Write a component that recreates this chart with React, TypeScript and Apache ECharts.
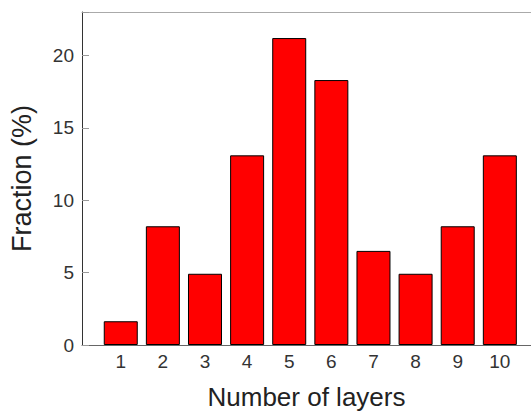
import React, { useEffect, useRef } from "react";
import * as echarts from "echarts";

const layers = [1, 2, 3, 4, 5, 6, 7, 8, 9, 10];
const fractions = [1.64, 8.2, 4.92, 13.1, 21.2, 18.3, 6.5, 4.92, 8.2, 13.1];
const yTicks = [0, 5, 10, 15, 20];

export default function App() {
  const ref = useRef<HTMLDivElement>(null);
  useEffect(() => {
    document.body.style.margin = "0";
    const chart = echarts.init(ref.current!, null, { renderer: "svg" });
    const font = "'Liberation Sans', Arial, sans-serif";
    chart.setOption({
      animation: false,
      backgroundColor: "#ffffff",
      grid: { left: 81, top: 12, right: 0, bottom: 69 },
      xAxis: [
        {
          type: "value",
          min: 0.08,
          max: 10.74,
          name: "Number of layers",
          nameLocation: "middle",
          nameGap: 39,
          nameTextStyle: { fontFamily: font, fontSize: 26, color: "#222" },
          axisLine: { show: true, lineStyle: { color: "#666", width: 1 } },
          axisTick: { show: false },
          splitLine: { show: false },
          axisLabel: {
            customValues: layers,
            fontFamily: font,
            fontSize: 19,
            color: "#333",
            margin: 7,
          },
        },
        {
          type: "value",
          position: "top",
          min: 0.08,
          max: 10.74,
          axisLine: { show: true, lineStyle: { color: "#aaa", width: 1 } },
          axisTick: { show: false },
          axisLabel: { show: false },
          splitLine: { show: false },
        },
      ],
      yAxis: {
        type: "value",
        min: 0,
        max: 23,
        interval: 5,
        name: "Fraction (%)",
        nameLocation: "middle",
        nameGap: 47,
        nameTextStyle: { fontFamily: font, fontSize: 27, color: "#222" },
        axisLine: { show: true, lineStyle: { color: "#333", width: 1 } },
        axisTick: { show: true, inside: true, length: 7, lineStyle: { color: "#999" } },
        splitLine: { show: false },
        axisLabel: {
          customValues: yTicks,
          fontFamily: font,
          fontSize: 19,
          color: "#333",
          margin: 8,
        },
      },
      series: [
        {
          type: "bar",
          xAxisIndex: 0,
          barWidth: 34,
          data: layers.map((l, i) => [l, fractions[i]]),
          itemStyle: { color: "#ff0000", borderColor: "#000", borderWidth: 1 },
        },
      ],
    });
    return () => chart.dispose();
  }, []);
  return <div ref={ref} style={{ width: 531, height: 415 }} />;
}
